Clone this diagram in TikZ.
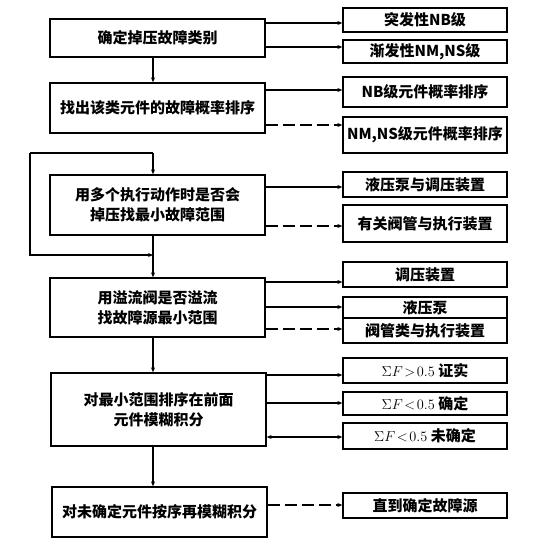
\documentclass[tikz,border=0pt]{standalone}
\usepackage{fontspec}
\newfontfamily\cjk{Noto Sans CJK SC}
\usetikzlibrary{arrows.meta}
\begin{document}
\begin{tikzpicture}[x=1bp,y=-1bp,
  box/.style={draw,line width=1.3bp,rectangle,inner sep=0pt,align=center,font=\cjk\bfseries\fontsize{15bp}{20bp}\selectfont},
  rbox/.style={box,minimum width=164bp},
  lbox/.style={box,minimum width=215bp},
  arr/.style={line width=1.1bp,-{Stealth[length=5bp,width=4bp]}},
  ln/.style={line width=1.1bp},
  dsh/.style={dash pattern=on 12bp off 5bp}]
\useasboundingbox (0,0) rectangle (546,552);
% left boxes
\node[lbox,minimum height=38bp] (b1) at (157.5,38) {确定掉压故障类别};
\node[lbox,minimum height=50bp] (b2) at (157.5,108) {找出该类元件的故障概率排序};
\node[lbox,minimum height=60bp] (b3) at (157.5,205) {用多个执行动作时是否会\\掉压找最小故障范围};
\node[lbox,minimum height=59bp] (b4) at (157.5,307.5) {用溢流阀是否溢流\\找故障源最小范围};
\node[lbox,minimum height=73bp] (b5) at (158.5,409.5) {对最小范围排序在前面\\元件模糊积分};
\node[lbox,minimum height=50bp] (b6) at (159.5,512) {对未确定元件按序再模糊积分};
% right boxes
\node[rbox,minimum height=24bp] (r1) at (425,20) {突发性NB级};
\node[rbox,minimum height=23bp] (r2) at (425,51.5) {渐发性NM,NS级};
\node[rbox,minimum height=30bp] (r3) at (425,92) {NB级元件概率排序};
\node[rbox,minimum height=36bp] (r4) at (425,135) {NM,NS级元件概率排序};
\node[rbox,minimum height=25bp] (r5) at (425,184.5) {液压泵与调压装置};
\node[rbox,minimum height=37bp] (r6) at (425,223.5) {有关阀管与执行装置};
\node[rbox,minimum height=25bp] (r7) at (425,274.5) {调压装置};
\node[rbox,minimum height=21bp] (r8) at (425,307.5) {液压泵};
\node[rbox,minimum height=25bp] (r9) at (425,330.5) {阀管类与执行装置};
\node[rbox,minimum height=25bp] (r10) at (425,370.5) {$\Sigma F\!>\!0.5$ 证实};
\node[rbox,minimum height=23bp] (r11) at (425,403.5) {$\Sigma F\!<\!0.5$ 确定};
\node[rbox,minimum height=26bp] (r12) at (425,436) {$\Sigma F\!<\!0.5$ 未确定};
\node[rbox,minimum height=25bp] (r13) at (425,505.5) {直到确定故障源};
% arrow heights
\coordinate (y1) at (0,23);
\coordinate (y2) at (0,47);
\coordinate (y3) at (0,90);
\coordinate (y4) at (0,125);
\coordinate (y5) at (0,187);
\coordinate (y6) at (0,226);
\coordinate (y7) at (0,282);
\coordinate (y8) at (0,307);
\coordinate (y9) at (0,329);
\coordinate (y10) at (0,375);
\coordinate (y11) at (0,403);
\coordinate (y12) at (0,437);
\coordinate (y13) at (0,505);
\draw[arr] (b1.east |- y1) -- (r1.west |- y1);
\draw[arr] (b1.east |- y2) -- (r2.west |- y2);
\draw[arr] (b2.east |- y3) -- (r3.west |- y3);
\draw[arr,dsh] (b2.east |- y4) -- (r4.west |- y4);
\draw[arr] (b3.east |- y5) -- (r5.west |- y5);
\draw[arr,dsh] (b3.east |- y6) -- (r6.west |- y6);
\draw[arr] (b4.east |- y7) -- (r7.west |- y7);
\draw[arr] (b4.east |- y8) -- (r8.west |- y8);
\draw[arr,dsh] (b4.east |- y9) -- (r9.west |- y9);
\draw[arr] (b5.east |- y10) -- (r10.west |- y10);
\draw[arr] (b5.east |- y11) -- (r11.west |- y11);
\draw[arr,{Stealth[length=5bp,width=4bp]}-{Stealth[length=5bp,width=4bp]}] (b5.east |- y12) -- (r12.west |- y12);
\draw[arr,dsh] (b6.east |- y13) -- (r13.west |- y13);
% main flow
\coordinate (tl) at (30,153);
\coordinate (j1) at (153,153);
\coordinate (bl) at (30,255);
\coordinate (j2) at (153,255);
\draw[arr] (b1.south -| j1) -- (b2.north -| j1);
\draw[ln] (tl) -- (j1);
\draw[arr] (j1) -- (b3.north -| j1);
\draw[ln] (b3.south -| j2) -- (j2);
\draw[arr] (tl) -- (bl) -- (j2);
\draw[arr] (j2) -- (b4.north -| j2);
\draw[arr] (b4.south -| j2) -- (b5.north -| j2);
\draw[arr] (b5.south -| j2) -- (b6.north -| j2);
\end{tikzpicture}
\end{document}
